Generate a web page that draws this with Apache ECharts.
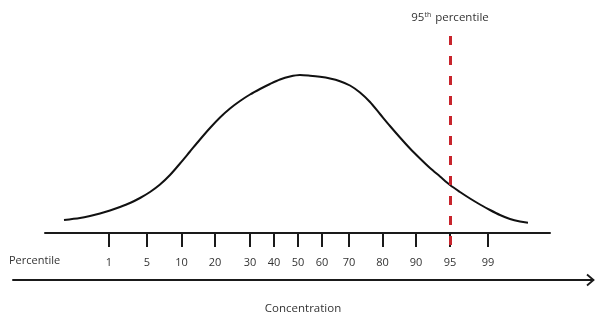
<!DOCTYPE html>
<html>
<head>
<meta charset="utf-8">
<script src="https://cdn.jsdelivr.net/npm/echarts@6/dist/echarts.min.js"></script>
<style>
  html, body { margin: 0; padding: 0; background: #fff; }
  #chart { width: 600px; height: 322px; }
</style>
</head>
<body>
<div id="chart"></div>
<script>
// Concentration (arbitrary units along the horizontal axis) and the density curve
const concentration = [19, 35, 45, 55, 65, 75, 85, 95, 105, 115, 125, 135, 145, 155, 165, 175,
  185, 195, 205, 215, 225, 235, 245, 255, 265, 275, 285, 295, 305, 315, 325, 335, 345, 355,
  365, 375, 385, 395, 405, 415, 425, 435, 445, 455, 465, 475, 483];
const density = [13, 15, 17, 19.5, 22.5, 26, 30, 35, 41, 48.5, 58, 69.5, 81.5, 93.5, 105, 115.5,
  124.5, 132, 138.5, 144, 149, 153.5, 156.5, 158, 157.3, 156.2, 154.5, 151.8, 147.5, 140.5, 131, 119, 107, 95.5,
  84.5, 74.5, 65, 56.5, 48, 41, 34.5, 28.5, 23, 18, 14, 11.5, 10.3];

// Percentile markers along the concentration axis
const percentileLabels = ['1', '5', '10', '20', '30', '40', '50', '60', '70', '80', '90', '95', '99'];
const percentilePositions = [64, 102, 136.5, 170, 205, 229, 253, 277, 304, 337.5, 371, 405, 443];

// Highlighted percentile
const highlightLabel = '95';
const highlightPosition = percentilePositions[percentileLabels.indexOf(highlightLabel)];
const highlightTop = 197;

const axisMin = 0, axisMax = 505;
const densityMin = -14, densityMax = 233;

const font = '"Open Sans", "Noto Sans", sans-serif';
const ink = '#1a1a1a';

const chart = echarts.init(document.getElementById('chart'), null, { renderer: 'canvas' });

const labelFor = {};
percentilePositions.forEach((p, i) => { labelFor[p] = percentileLabels[i]; });

chart.setOption({
  animation: false,
  backgroundColor: '#ffffff',
  grid: [
    { left: 45, right: 50, top: 0, bottom: 75 },
    { left: 13, right: 7, top: 279, height: 1 }
  ],
  xAxis: [
    {
      type: 'value', gridIndex: 0, min: axisMin, max: axisMax,
      splitLine: { show: false },
      axisLine: { show: true, onZero: true, lineStyle: { color: ink, width: 2 } },
      axisTick: {
        show: true, length: 14, inside: false,
        customValues: percentilePositions,
        lineStyle: { color: ink, width: 2 }
      },
      axisLabel: {
        show: true, margin: 10,
        customValues: percentilePositions,
        formatter: v => labelFor[v] || '',
        color: '#333', fontSize: 11, fontFamily: font
      }
    },
    {
      type: 'value', gridIndex: 1, min: 0, max: 1,
      splitLine: { show: false },
      axisTick: { show: false },
      axisLabel: { show: false },
      axisLine: { show: true, onZero: false, lineStyle: { color: ink, width: 2 } },
      name: 'Concentration',
      nameLocation: 'middle',
      nameGap: 23,
      nameTextStyle: { color: '#333', fontSize: 11.5, fontFamily: font }
    }
  ],
  yAxis: [
    { type: 'value', gridIndex: 0, min: densityMin, max: densityMax, show: false },
    { type: 'value', gridIndex: 1, min: 0, max: 1, show: false }
  ],
  series: [
    {
      type: 'line',
      xAxisIndex: 0, yAxisIndex: 0,
      data: concentration.map((c, i) => [c, density[i]]),
      smooth: 0.3,
      showSymbol: false,
      lineStyle: { color: '#111', width: 2 },
      markLine: {
        silent: true,
        symbol: ['none', 'none'],
        lineStyle: { color: '#c8242c', width: 3, type: [9, 11] },
        label: {
          show: true,
          position: 'start',
          distance: 12,
          formatter: highlightLabel + '{sup|th} percentile',
          color: '#333', fontSize: 11.5, fontFamily: font,
          rich: {
            sup: { fontSize: 7, color: '#333', fontFamily: font, verticalAlign: 'top', padding: [0, 1, 6, 0] }
          }
        },
        data: [[
          { coord: [highlightPosition, highlightTop] },
          { coord: [highlightPosition, densityMin] }
        ]]
      }
    }
  ],
  graphic: [
    {
      type: 'text', left: 9, top: 255,
      style: { text: 'Percentile', fill: '#333', fontSize: 11, fontFamily: font }
    },
    {
      type: 'polyline',
      shape: { points: [[587, 274.5], [593.5, 280], [587, 285.5]] },
      style: { stroke: ink, lineWidth: 1.8, fill: null }
    }
  ]
});
</script>
</body>
</html>
